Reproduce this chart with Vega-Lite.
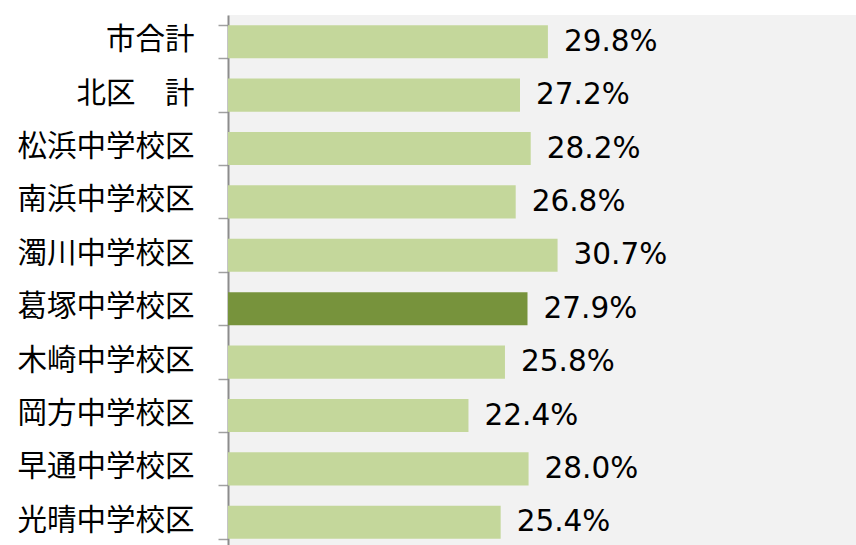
{
  "$schema": "https://vega.github.io/schema/vega-lite/v6.json",
  "width": 628,
  "height": 534,
  "autosize": "none",
  "padding": {"left": 228, "top": 15, "right": 0, "bottom": 0},
  "background": "white",
  "view": {"fill": "#F2F2F2", "stroke": null},
  "data": {
    "values": [
      {"area": "市合計", "rate": 0.298},
      {"area": "北区　計", "rate": 0.272},
      {"area": "松浜中学校区", "rate": 0.282},
      {"area": "南浜中学校区", "rate": 0.268},
      {"area": "濁川中学校区", "rate": 0.307},
      {"area": "葛塚中学校区", "rate": 0.279},
      {"area": "木崎中学校区", "rate": 0.258},
      {"area": "岡方中学校区", "rate": 0.224},
      {"area": "早通中学校区", "rate": 0.280},
      {"area": "光晴中学校区", "rate": 0.254}
    ]
  },
  "encoding": {
    "y": {
      "field": "area",
      "type": "nominal",
      "sort": null,
      "scale": {"paddingInner": 0.38, "paddingOuter": 0.19},
      "axis": {
        "title": null,
        "domainColor": "#8C8C8C",
        "domainWidth": 2,
        "tickColor": "#A0A0A0",
        "tickWidth": 1.5,
        "tickSize": 10,
        "tickBand": "extent",
        "labelFont": "Noto Sans CJK JP",
        "labelFontSize": 29.5,
        "labelColor": "#000000",
        "labelPadding": 24,
        "labelOffset": -2,
        "labelLimit": 250,
        "grid": false
      }
    },
    "x": {
      "field": "rate",
      "type": "quantitative",
      "scale": {"domain": [0, 0.585], "nice": false, "zero": true},
      "axis": null
    }
  },
  "layer": [
    {
      "mark": {"type": "bar"},
      "encoding": {
        "color": {
          "condition": {"test": "datum.area === '葛塚中学校区'", "value": "#77933C"},
          "value": "#C4D79B"
        }
      }
    },
    {
      "mark": {
        "type": "text",
        "align": "left",
        "baseline": "middle",
        "dx": 16,
        "dy": 0,
        "font": "DejaVu Sans",
        "fontSize": 29.5,
        "color": "#000000"
      },
      "encoding": {
        "text": {"field": "rate", "type": "quantitative", "format": ".1%"}
      }
    }
  ]
}
